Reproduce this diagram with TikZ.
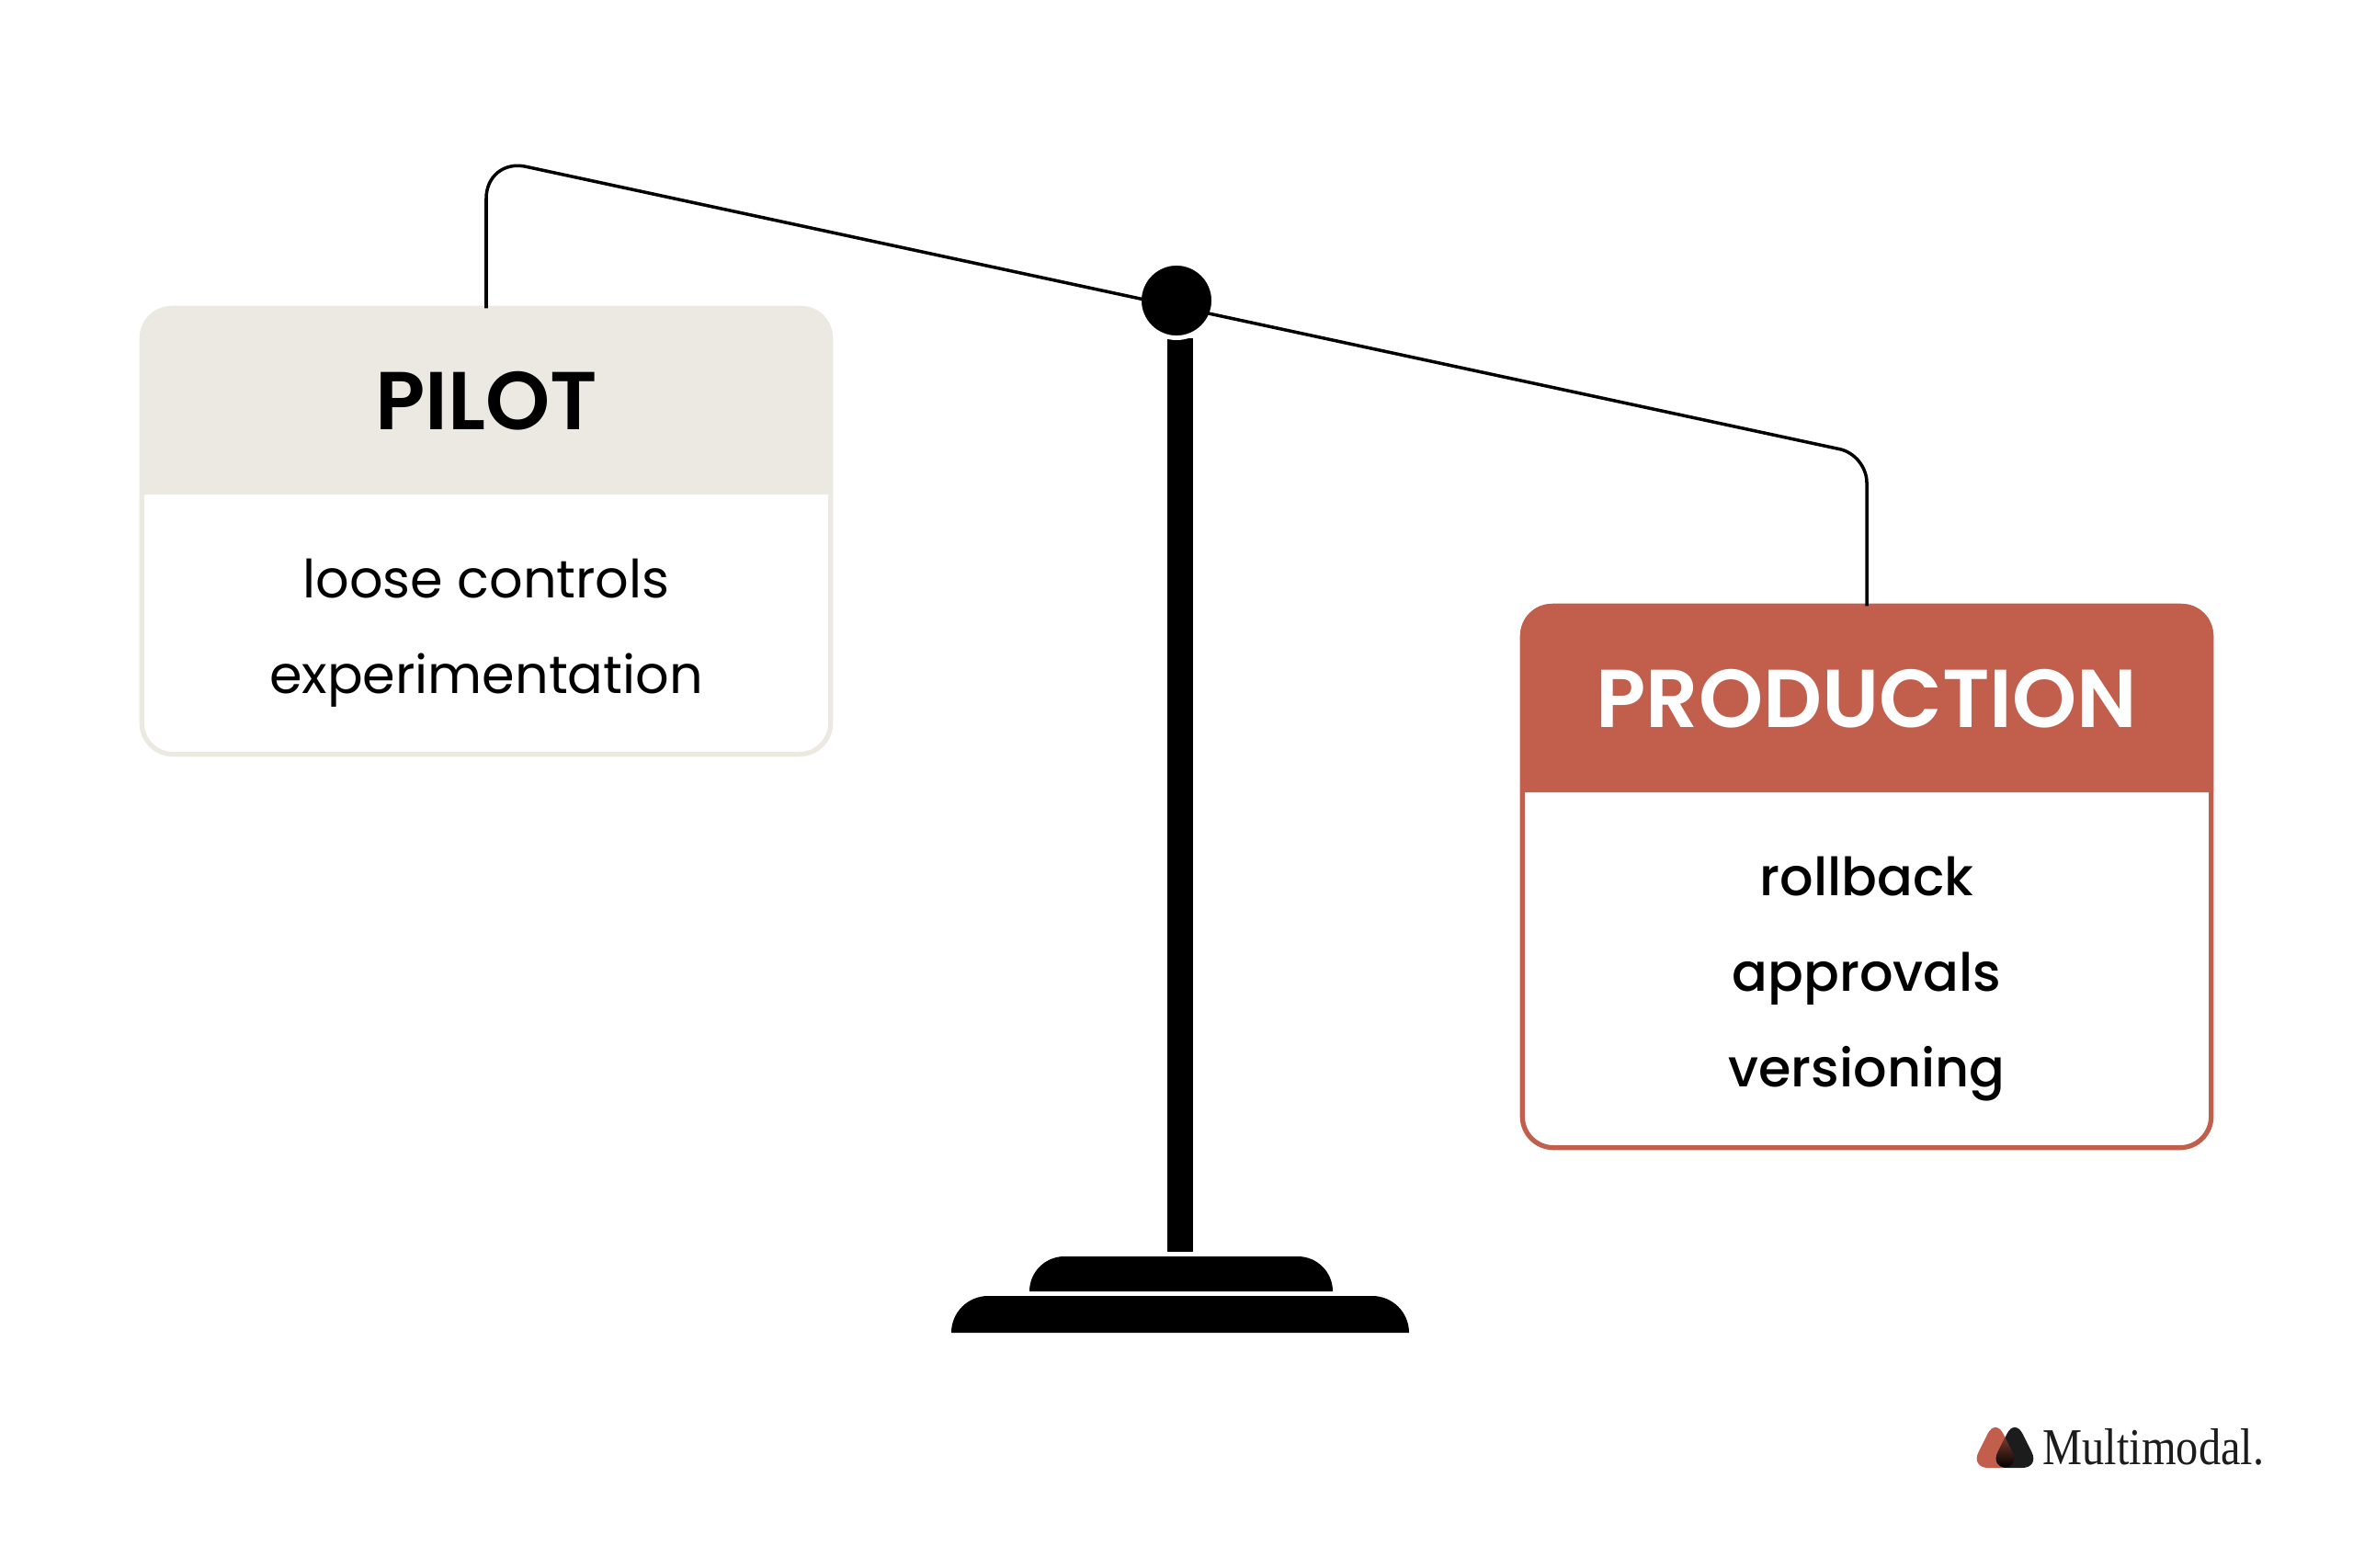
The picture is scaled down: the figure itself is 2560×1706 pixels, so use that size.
\documentclass[tikz,border=0pt]{standalone}
\usepackage{fontspec}
\setmainfont{Poppins}
\newfontfamily\medfont{Poppins}[UprightFont=* Medium]
\newfontfamily\semifont{Poppins}[UprightFont=* SemiBold]
\newfontfamily\logofont{Liberation Serif}[FakeStretch=0.86]
\usetikzlibrary{positioning,calc}
\definecolor{pilotcol}{HTML}{EBE9E1}
\definecolor{prodcol}{HTML}{C25E4C}
\definecolor{logocol}{HTML}{1C1C1C}
\begin{document}
\begin{tikzpicture}[
    x=0.01cm, y=-0.01cm,
    card/.style={draw, line width=1.5pt, rounded corners=3.4mm, minimum width=7.49cm, inner sep=0pt, outer sep=0pt},
    ttl/.style={font=\semifont\fontsize{25.4}{30}\selectfont},
    txt/.style={align=center, font=\fontsize{16.3}{29.6}\selectfont},
    beam/.style={line width=1pt},
    pivot/.style={circle, fill=black, draw=white, line width=1.4pt, minimum size=0.81cm, inner sep=0pt, outer sep=0pt},
    mark tri/.style={rounded corners=1.9mm}
]
\useasboundingbox (0,0) rectangle (2560,1706);
\node[card, draw=pilotcol, minimum height=4.85cm] (pilot) at (529,578) {};
\node[card, draw=prodcol, minimum height=5.89cm] (prod) at (2031,954) {};
\fill[pilotcol] (152,538) [rounded corners=3.4mm] -- (152,333) -- (906,333) [sharp corners] -- (906,538) -- cycle;
\fill[prodcol] (1654,862) [rounded corners=3.4mm] -- (1654,657) -- (2408,657) [sharp corners] -- (2408,862) -- cycle;
\node[ttl] (pilothead) at (529,436) {PILOT};
\node[ttl, text=white] (prodhead) at (2031,760) {PRODUCTION};
\node[txt] (pilottext) at (529,689) {loose controls\\experimentation};
\node[txt, font=\medfont\fontsize{16.3}{29.6}\selectfont] (prodtext) at (2031,1065) {rollback\\approvals\\versioning};
\fill (1270,368) rectangle (1298,1362);
\node[pivot] (piv) at (1280,327) {};
\draw[beam] (pilot.north) [rounded corners=4.4mm] -- (529,172) [rounded corners=3mm] -- (2031,495) [sharp corners] -- (prod.north);
\fill (1120,1405) [rounded corners=3.8mm] -- (1120,1367) -- (1450,1367) [sharp corners] -- (1450,1405) -- cycle;
\fill (1035,1450) [rounded corners=4mm] -- (1035,1410) -- (1533,1410) [sharp corners] -- (1533,1450) -- cycle;
\fill[prodcol, mark tri] (2144,1597) -- (2171,1543) -- (2198,1597) -- cycle;
\fill[logocol, mark tri] (2165,1597) -- (2192,1543) -- (2219,1597) -- cycle;
\begin{scope}
\clip[mark tri] (2144,1597) -- (2171,1543) -- (2198,1597) -- cycle;
\shade[mark tri, top color=prodcol, bottom color=black] (2165,1597) -- (2192,1543) -- (2219,1597) -- cycle;
\end{scope}
\node[anchor=base west, inner sep=0pt, font=\logofont\fontsize{16}{18}\selectfont, text=logocol] (logo) at (2222,1593) {Multimodal.};
\end{tikzpicture}
\end{document}
